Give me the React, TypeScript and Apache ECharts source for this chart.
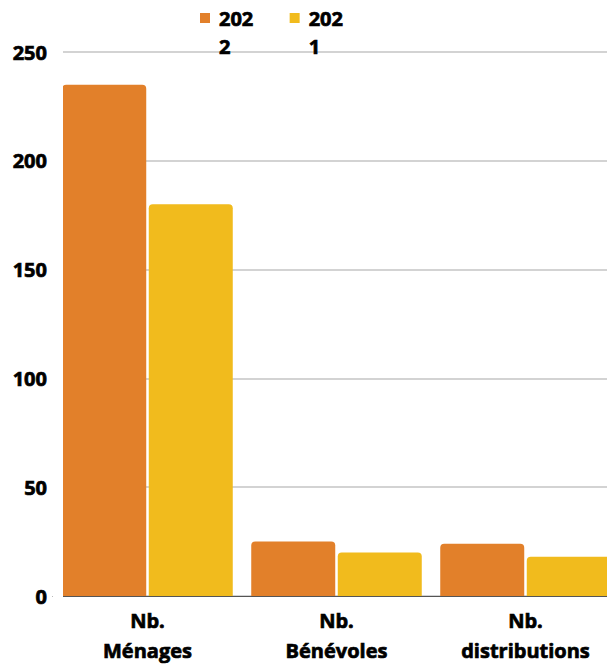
import React, { useEffect, useRef } from "react";
import * as echarts from "echarts";

const categories = ["Nb.\nMénages", "Nb.\nBénévoles", "Nb.\ndistributions"];
const seriesNames = ["2022", "2021"];
const values2022 = [235, 25, 24];
const values2021 = [180, 20, 18];
const colors = ["#E2802A", "#F1BB1D"];

export default function App() {
  const ref = useRef<HTMLDivElement>(null);
  useEffect(() => {
    document.body.style.margin = "0";
    const chart = echarts.init(ref.current!, null, { renderer: "svg" });
    const font = "'Open Sans', sans-serif";
    const w = "bold";
    const heavy = { textBorderColor: "#000", textBorderWidth: 0.7 };
    chart.setOption({
      animation: false,
      color: colors,
      textStyle: { fontFamily: font },
      legend: {
        top: -24,
        left: 200,
        padding: 0,
        itemGap: 36,
        itemWidth: 10,
        itemHeight: 10,
        icon: "rect",
        data: seriesNames,
        formatter: (n: string) =>
          " \n{a|" + n.slice(0, 3) + "}\n{a|" + n.slice(3) + "}",
        textStyle: {
          fontFamily: font,
          fontWeight: w,
          fontSize: 20,
          color: "#000",
          lineHeight: 28,
          rich: {
            a: {
              fontFamily: font,
              fontWeight: w,
              fontSize: 20,
              color: "#000",
              lineHeight: 28,
              padding: [0, 0, 0, 4],
              ...heavy,
            },
          },
        },
      },
      grid: { left: 53, top: 52, right: 20, bottom: 66, containLabel: false },
      xAxis: {
        type: "category",
        data: categories,
        axisTick: { show: false },
        axisLine: { lineStyle: { color: "#555", width: 1 } },
        axisLabel: {
          color: "#000",
          fontWeight: w,
          fontSize: 20,
          fontFamily: font,
          lineHeight: 30,
          margin: 9,
          ...heavy,
        },
      },
      yAxis: {
        type: "value",
        min: 0,
        max: 250,
        interval: 50,
        axisLine: { show: false },
        axisTick: { show: false },
        splitLine: { lineStyle: { color: "#c4c4c4", width: 1.5 } },
        axisLabel: {
          color: "#000",
          fontWeight: w,
          fontSize: 20,
          fontFamily: font,
          margin: 6,
          ...heavy,
        },
      },
      graphic: [
        {
          type: "rect",
          z: 100,
          shape: { x: 53, y: 40, width: 10, height: 562 },
          style: { fill: "#fff" },
        },
      ],
      series: [
        {
          name: seriesNames[0],
          type: "bar",
          data: values2022,
          barWidth: 84,
          barGap: "3%",
          itemStyle: { borderRadius: [4, 4, 0, 0] },
        },
        {
          name: seriesNames[1],
          type: "bar",
          data: values2021,
          barWidth: 84,
          itemStyle: { borderRadius: [4, 4, 0, 0] },
        },
      ],
    });
    return () => chart.dispose();
  }, []);
  return (
    <div style={{ width: 607, height: 665, overflow: "hidden" }}>
      <div ref={ref} style={{ width: 640, height: 665 }} />
    </div>
  );
}
